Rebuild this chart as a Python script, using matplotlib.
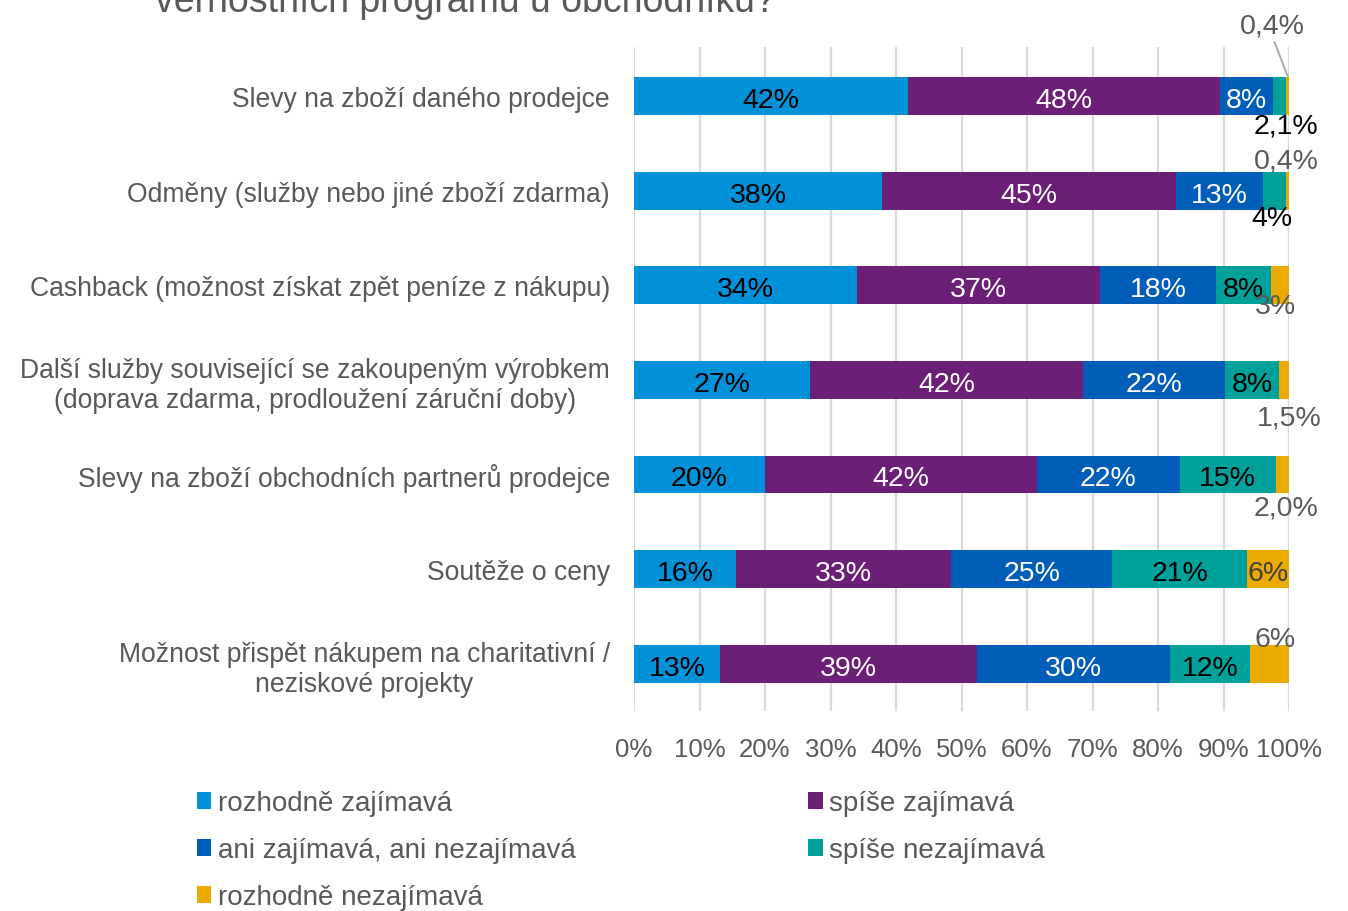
import matplotlib
matplotlib.use("Agg")
import matplotlib.pyplot as plt
from matplotlib.patches import Patch
import numpy as np

plt.rcParams['font.family'] = ['Liberation Sans', 'DejaVu Sans']

categories = [
    "Slevy na zboží daného prodejce",
    "Odměny (služby nebo jiné zboží zdarma)",
    "Cashback (možnost získat zpět peníze z nákupu)",
    "Další služby související se zakoupeným výrobkem\n(doprava zdarma, prodloužení záruční doby)",
    "Slevy na zboží obchodních partnerů prodejce",
    "Soutěže o ceny",
    "Možnost přispět nákupem na charitativní /\nneziskové projekty",
]
series_names = [
    "rozhodně zajímavá",
    "spíše zajímavá",
    "ani zajímavá, ani nezajímavá",
    "spíše nezajímavá",
    "rozhodně nezajímavá",
]
rozhodne_zajimava = [41.8, 37.9, 34.1, 26.8, 20.0, 15.6, 13.1]
spise_zajimava = [47.6, 44.9, 37.1, 41.8, 41.5, 32.8, 39.3]
ani_ani = [8.1, 13.2, 17.7, 21.7, 21.8, 24.6, 29.5]
spise_nezajimava = [2.1, 3.6, 8.4, 8.2, 14.7, 20.6, 12.1]
rozhodne_nezajimava = [0.4, 0.4, 2.7, 1.5, 2.0, 6.4, 6.0]
x_ticks = [0, 10, 20, 30, 40, 50, 60, 70, 80, 90, 100]

series = [rozhodne_zajimava, spise_zajimava, ani_ani, spise_nezajimava, rozhodne_nezajimava]
colors = ["#0091D9", "#6C1F77", "#005EB8", "#00A19A", "#EBAA00"]
label_colors = ["black", "white", "white", "black", "#404040"]
GRAY = "#595959"
LABEL_FS = 20.5

fig = plt.figure(figsize=(13.48, 9.12), dpi=100)
ax = fig.add_axes([634 / 1348, 1 - 712 / 912, (1289 - 634) / 1348, (712 - 48) / 912])

y = np.arange(len(categories))
left = np.zeros(len(categories))
for vals, col in zip(series, colors):
    ax.barh(y, vals, left=left, height=0.40, color=col, edgecolor='none', zorder=3)
    left = left + np.array(vals)

ax.set_xlim(0, 100)
ax.set_ylim(6.5, -0.52)
ax.set_yticks(y)
ax.set_yticklabels(categories, fontsize=19.1, color=GRAY)
for lbl in ax.get_yticklabels():
    lbl.set_multialignment('center')
ax.set_xticks(x_ticks)
ax.set_xticklabels([f"{t}%" for t in x_ticks], fontsize=18.5, color=GRAY)
ax.tick_params(axis='both', length=0)
ax.tick_params(axis='x', pad=19)
ax.tick_params(axis='y', pad=17.3)
ax.grid(axis='x', color="#D9D9D9", linewidth=1.6, zorder=0)
for s in ax.spines.values():
    s.set_visible(False)


def pct(v):
    return f"{v:.0f}%"


def pct1(v):
    return f"{v:.1f}%".replace(".", ",")


# segment labels inside the bars
starts = np.zeros(len(categories))
for si, vals in enumerate(series):
    for i, v in enumerate(vals):
        inside = v >= 5.0 and not (si == 4 and i == 6)
        if inside:
            ax.text(starts[i] + v / 2, i + 0.01, pct(v), ha='center', va='center_baseline',
                    fontsize=LABEL_FS, color=label_colors[si], zorder=5)
    starts = starts + np.array(vals)


def start_of(i, si):
    return sum(series[k][i] for k in range(si))


def outside(x, yy, txt, color):
    ax.text(x, yy, txt, ha='center', va='center_baseline', fontsize=LABEL_FS,
            color=color, zorder=5, clip_on=False)


# thin segments labelled next to the bars
outside(99.6, 0.28, pct1(spise_nezajimava[0]), 'black')
outside(97.5, -0.78, pct1(rozhodne_nezajimava[0]), GRAY)
ax.plot([97.8, start_of(0, 4) + rozhodne_nezajimava[0] / 2], [-0.57, -0.21],
        color="#A6A6A6", linewidth=1.3, zorder=4, clip_on=False)
outside(99.6, 0.65, pct1(rozhodne_nezajimava[1]), GRAY)
outside(97.4, 1.26, pct(spise_nezajimava[1]), 'black')
outside(98.0, 2.19, pct(rozhodne_nezajimava[2]), GRAY)
outside(100.0, 3.37, pct1(rozhodne_nezajimava[3]), GRAY)
outside(99.6, 4.32, pct1(rozhodne_nezajimava[4]), GRAY)
outside(97.8, 5.71, pct(rozhodne_nezajimava[6]), GRAY)

# second line of the question title, partly beyond the top edge
fig.text(155 / 1348, 1 - 12 / 912, "věrnostních programů u obchodníků?", fontsize=27, color=GRAY,
         ha='left', va='baseline')

# legend
handles = [Patch(facecolor=c, edgecolor='none') for c in colors]
order = [0, 2, 4, 1, 3]
leg = fig.legend([handles[k] for k in order], [series_names[k] for k in order],
                 ncol=2, loc='upper left', bbox_to_anchor=(197 / 1348, 1 - 791 / 912),
                 frameon=False, fontsize=20, handlelength=0.52, handleheight=0.55,
                 handletextpad=0.25, columnspacing=8.35, labelspacing=0.76, borderaxespad=0,
                 borderpad=0)
for t in leg.get_texts():
    t.set_color(GRAY)

fig.savefig("out.png", dpi=100)
